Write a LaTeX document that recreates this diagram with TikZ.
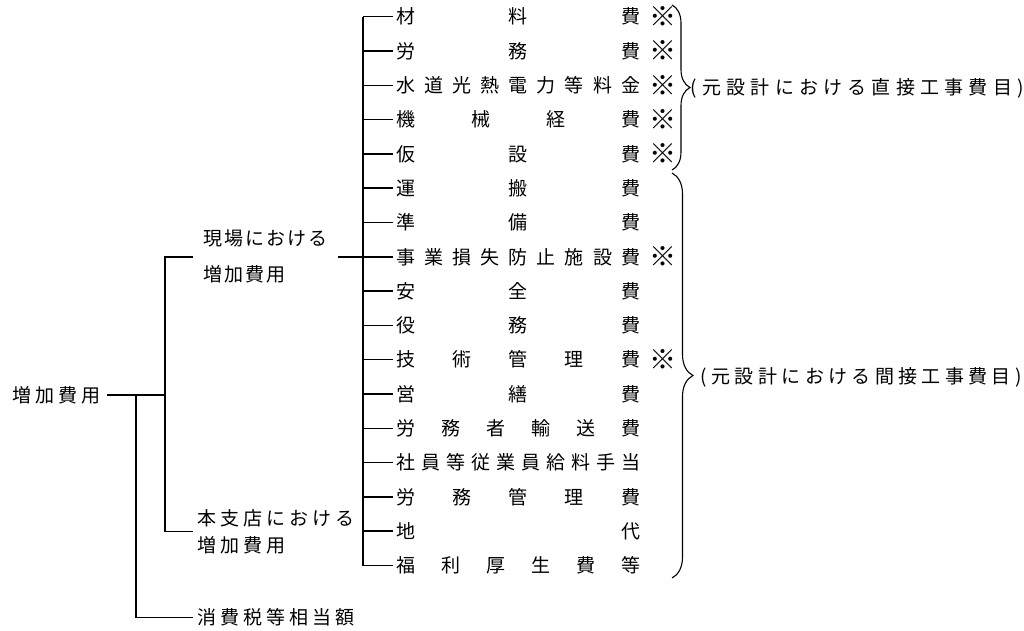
\documentclass[tikz,border=0pt]{standalone}
\usepackage{fontspec}
\newfontfamily\jp{Noto Sans CJK JP}
\newfontfamily\jpls[LetterSpace=21]{Noto Sans CJK JP}
\newfontfamily\jpnarrow[LetterSpace=10]{Noto Sans CJK JP}
\usetikzlibrary{decorations.pathreplacing}
\newcommand{\spread}[2][244pt]{\makebox[#1][s]{#2}}

\begin{document}
\begin{tikzpicture}
  [x=1pt,y=-1pt,line width=1.5pt,
   every node/.style={inner sep=0pt,font=\fontsize{19}{27}\selectfont\jpls},
   item/.style={anchor=west,inner xsep=2.5pt,font=\fontsize{19}{27}\selectfont\jp},
   kome/.style={font=\fontsize{27}{27}\selectfont\jp},
   note/.style={anchor=west,font=\fontsize{19}{27}\selectfont\jp},
   brc/.style={line width=1.1pt,decorate,decoration={brace,amplitude=#1}}]
  \useasboundingbox (0,0) rectangle (1024,630);

  % left side
  \node[anchor=west,inner xsep=6pt] (zk) at (6,395) {増加費用};
  \node[anchor=west,inner xsep=10pt,align=left,
        font=\fontsize{19}{36}\selectfont\jpnarrow] (gb) at (193,256.8) {現場における\\増加費用};
  \node[anchor=west,inner xsep=4pt,align=left] (hs) at (193,531.7) {本支店における\\増加費用};
  \node[anchor=west,inner xsep=4pt] (st) at (193,617.7) {消費税等相当額};

  \coordinate (k1) at (136,395);
  \coordinate (k2) at (165,395);
  \coordinate (tr) at (363,0);

  % items
  \node[item] (i1) at (393,16.7) {\spread{材\hfill 料\hfill 費}};
  \node[item] (i2) at (393,51.0) {\spread{労\hfill 務\hfill 費}};
  \node[item] (i3) at (393,85.3) {\spread{水\hfill 道\hfill 光\hfill 熱\hfill 電\hfill 力\hfill 等\hfill 料\hfill 金}};
  \node[item] (i4) at (393,119.6) {\spread{機\hfill 械\hfill 経\hfill 費}};
  \node[item] (i5) at (393,153.9) {\spread{仮\hfill 設\hfill 費}};
  \node[item] (i6) at (393,188.2) {\spread{運\hfill 搬\hfill 費}};
  \node[item] (i7) at (393,222.5) {\spread{準\hfill 備\hfill 費}};
  \node[item] (i8) at (393,256.8) {\spread{事\hfill 業\hfill 損\hfill 失\hfill 防\hfill 止\hfill 施\hfill 設\hfill 費}};
  \node[item] (i9) at (393,291.1) {\spread{安\hfill 全\hfill 費}};
  \node[item] (i10) at (393,325.4) {\spread{役\hfill 務\hfill 費}};
  \node[item] (i11) at (393,359.7) {\spread{技\hfill 術\hfill 管\hfill 理\hfill 費}};
  \node[item] (i12) at (393,394.0) {\spread{営\hfill 繕\hfill 費}};
  \node[item] (i13) at (393,428.3) {\spread{労\hfill 務\hfill 者\hfill 輸\hfill 送\hfill 費}};
  \node[item] (i14) at (393,462.6) {\spread{社\hfill 員\hfill 等\hfill 従\hfill 業\hfill 員\hfill 給\hfill 料\hfill 手\hfill 当}};
  \node[item] (i15) at (393,496.9) {\spread{労\hfill 務\hfill 管\hfill 理\hfill 費}};
  \node[item] (i16) at (393,531.2) {\spread{地\hfill 代}};
  \node[item] (i17) at (393,565.5) {\spread{福\hfill 利\hfill 厚\hfill 生\hfill 費\hfill 等}};

  \foreach \n in {1,2,3,4,5,8,11}
    \node[kome] (m\n) at ([xshift=19pt]i\n.east) {※};

  % braces
  \coordinate (b1) at (672,5);
  \coordinate (b2) at (672,170);
  \coordinate (b3) at (672,173);
  \coordinate (b4) at (672,578);
  \draw[brc=18pt] (b1) -- (b2);
  \draw[brc=21pt] (b3) -- (b4);
  \node[note] (d1) at (690,88) {\spread[333pt]{(\hfill 元\hfill 設\hfill 計\hfill に\hfill お\hfill け\hfill る\hfill 直\hfill 接\hfill 工\hfill 事\hfill 費\hfill 目\hfill )}};
  \node[note] (d2) at (700,377) {\spread[321pt]{(\hfill 元\hfill 設\hfill 計\hfill に\hfill お\hfill け\hfill る\hfill 間\hfill 接\hfill 工\hfill 事\hfill 費\hfill 目\hfill )}};

  % connectors
  \draw (zk.east) -- (k2);
  \draw (k1) |- (st.west);
  \draw (gb.west) -| (k2) |- (hs.west);
  \draw (gb.east) -- (gb.east -| tr);
  \draw (i1.west -| tr) -- (i17.west -| tr);
  \foreach \n in {1,...,17}
    \draw (i\n.west) -- (i\n.west -| tr);
\end{tikzpicture}
\end{document}
